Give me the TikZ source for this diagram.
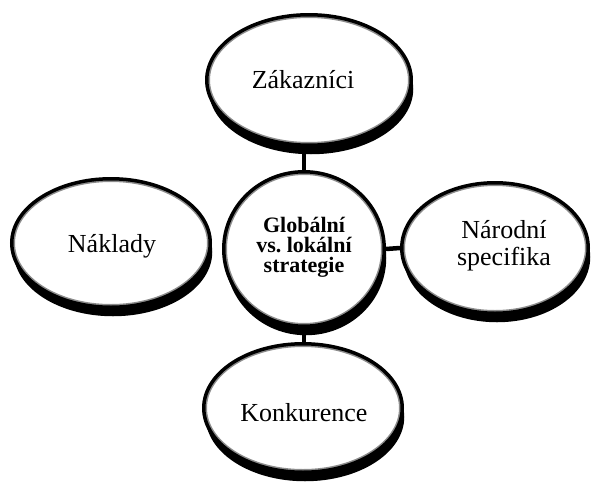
\documentclass[tikz,border=0pt]{standalone}
\usepackage{fontspec}
\setmainfont{Liberation Serif}
\usetikzlibrary{shapes.geometric,shadows,calc}

\tikzset{
  oval/.style={ellipse, draw=black, line width=3.5pt, fill=white, inner sep=0pt,
    drop shadow={shadow xshift=2pt, shadow yshift=-9pt, fill=black, opacity=1},
    path picture={
      \path let \p1=(path picture bounding box.north east),
                \p2=(path picture bounding box.center) in
        [draw=black!18, line width=10pt] (\p2) ellipse [x radius=\x1-\x2, y radius=\y1-\y2]
        [draw=black!45, line width=6.5pt] (\p2) ellipse [x radius=\x1-\x2, y radius=\y1-\y2];
    }},
  label/.style={font=\fontsize{26}{27}\selectfont, align=center, anchor=base, inner sep=0pt},
  hubtext/.style={font=\fontsize{22}{20}\bfseries\selectfont, align=center, anchor=base, inner sep=0pt},
  link/.style={line width=4.5pt, black}
}

\begin{document}
\begin{tikzpicture}[x=1pt, y=-1pt]
  \useasboundingbox (0,0) rectangle (600,485);

  % the five ovals
  \node[oval, minimum width=204.5pt, minimum height=130.5pt] (top) at (309,80) {};
  \node[oval, minimum width=198.5pt, minimum height=128.5pt] (left) at (111,243) {};
  \node[oval, minimum width=186.5pt, minimum height=130.5pt] (right) at (495,248) {};
  \node[oval, minimum width=198.5pt, minimum height=128.5pt] (bottom) at (303,408) {};
  \node[oval, minimum width=160.5pt, minimum height=154.5pt] (hub) at (304,249) {};

  % connectors from the hub
  \draw[link] (hub.north) -- (hub.north |- top.south);
  \draw[link] (hub.east) -- (right.west);
  \draw[link] (hub.south) -- (hub.south |- bottom.north);

  % texts (multi-line nodes sit on the baseline of their last line)
  \node[label] (ttop) at (303,88) {Zákazníci};
  \node[label] (tleft) at (112,252) {Náklady};
  \node[label] (tright) at (504,265) {Národní\\specifika};
  \node[label] (tbottom) at (304,421) {Konkurence};
  \node[hubtext] (thub) at (304,272) {Globální\\vs.\ lokální\\strategie};
\end{tikzpicture}
\end{document}
